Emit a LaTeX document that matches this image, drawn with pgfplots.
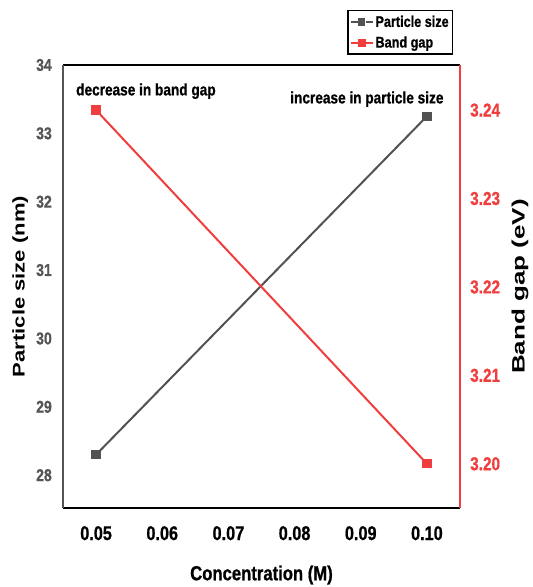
\documentclass[border=0pt]{standalone}
\usepackage{pgfplots}
\pgfplotsset{compat=1.18}
\usepackage{fontspec}
\setmainfont{Liberation Sans}
\newfontfamily\nb[FakeStretch=0.82, FakeBold=0.8]{Liberation Sans}
\newfontfamily\wbL[FakeStretch=1.3]{Liberation Sans}
\newfontfamily\wbR[FakeStretch=1.45]{Liberation Sans}
\definecolor{bgred}{RGB}{240,62,62}
\definecolor{psgray}{RGB}{82,82,82}
\definecolor{tickgray}{RGB}{85,85,85}
\begin{document}
\begin{tikzpicture}
\useasboundingbox (0,0) rectangle (533bp,587bp);
\begin{axis}[
  at={(63bp,79bp)}, anchor=south west,
  scale only axis, width=397bp, height=443bp,
  xmin=0.045, xmax=0.105, ymin=27.52, ymax=34,
  separate axis lines,
  axis x line*=box, axis y line*=left,
  x axis line style={line width=2.4bp, black, -},
  y axis line style={line width=1.5bp, tickgray, -},
  major tick length=0pt,
  /pgf/number format/assume math mode=true,
  xtick={0.05,0.06,0.07,0.08,0.09,0.10},
  xticklabels={0.05,0.06,0.07,0.08,0.09,0.10},
  ytick={28,29,30,31,32,33,34},
  yticklabels={28,29,30,31,32,33,34},
  xticklabel style={font=\nb\bfseries\fontsize{19.9}{20}\selectfont, inner sep=0pt, yshift=-18bp, black},
  yticklabel style={font=\nb\bfseries\fontsize{17.2}{18}\selectfont, inner sep=0pt, xshift=-11bp, tickgray},
  xlabel={Concentration (M)},
  xlabel style={font=\nb\bfseries\fontsize{20.4}{21}\selectfont, at={(axis description cs:0.5,0)}, anchor=center, yshift=-67bp},
  ylabel={Particle size (nm)},
  ylabel style={font=\wbL\bfseries\fontsize{17}{18}\selectfont, at={(axis description cs:-0.108,0.5)}, anchor=center},
]
\addplot[psgray, line width=2bp, mark=square*, mark size=3.6bp, mark options={solid}] coordinates {(0.05,28.3) (0.10,33.25)};
\node[anchor=west, inner sep=0pt, font=\nb\bfseries\fontsize{16.7}{17}\selectfont] at (axis description cs:0.0327,0.941) {decrease in band gap};
\node[anchor=west, inner sep=0pt, font=\nb\bfseries\fontsize{16.7}{17}\selectfont] at (axis description cs:0.572,0.923) {increase in particle size};
\end{axis}
\begin{axis}[
  at={(63bp,79bp)}, anchor=south west,
  scale only axis, width=397bp, height=443bp,
  xmin=0.045, xmax=0.105, ymin=3.195, ymax=3.2451,
  axis x line=none, axis y line*=right,
  y axis line style={line width=1.5bp, bgred, -},
  major tick length=0pt,
  /pgf/number format/assume math mode=true,
  ytick={3.20,3.21,3.22,3.23,3.24},
  yticklabels={3.20,3.21,3.22,3.23,3.24},
  yticklabel style={font=\nb\bfseries\fontsize{18.8}{19}\selectfont, inner sep=0pt, xshift=10bp, bgred},
  ylabel={Band gap (eV)},
  ylabel style={font=\wbR\bfseries\fontsize{18}{19}\selectfont, at={(axis description cs:1.151,0.5)}, anchor=center},
  legend style={at={(axis description cs:0.982,1.124)}, anchor=north east, draw=black, line width=1.3bp, inner xsep=1.5bp, inner ysep=3bp, row sep=4bp,
    font=\nb\bfseries\fontsize{15.5}{16}\selectfont, legend cell align=left},
  legend image code/.code={
    \draw[#1, line width=2bp] (0bp,0bp) -- (7bp,0bp);
    \draw[#1, line width=2bp] (15bp,0bp) -- (22bp,0bp);
    \draw[#1, mark size=3bp] plot coordinates {(11bp,0bp)};
  },
]
\addlegendimage{psgray, mark=square*, mark options={solid}}
\addlegendentry{Particle size}
\addplot[bgred, line width=2bp, mark=square*, mark size=3.6bp, mark options={solid}] coordinates {(0.05,3.24) (0.10,3.20)};
\addlegendentry{Band gap}
\end{axis}
\end{tikzpicture}
\end{document}
